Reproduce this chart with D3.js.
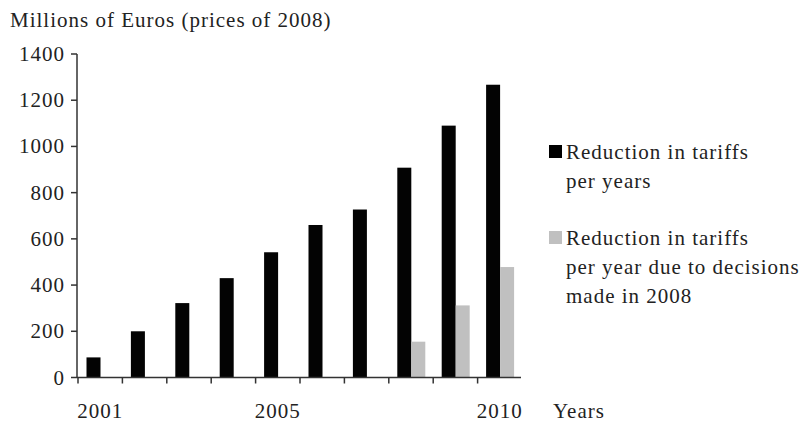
<!DOCTYPE html>
<html>
<head>
<meta charset="utf-8">
<script src="https://cdn.jsdelivr.net/npm/d3@7"></script>
<style>
    body { margin: 0; background: #fff; }
</style>
</head>
<body>
<div id="chart"></div>
<script>
// Data
const years = [2001, 2002, 2003, 2004, 2005, 2006, 2007, 2008, 2009, 2010];
const tariffReduction = [87, 200, 322, 430, 542, 660, 727, 908, 1090, 1267];
const reduction2008 = [0, 0, 0, 0, 0, 0, 0, 155, 312, 478];
const yTicks = [0, 200, 400, 600, 800, 1000, 1200, 1400];
const xLabels = [2001, 2005, 2010];
const legendItems = [
    { color: '#000', lines: ['Reduction in tariffs', 'per years'] },
    { color: '#c0c0c0', lines: ['Reduction in tariffs', 'per year due to decisions', 'made in 2008'] }
];

const W = 801, H = 428;
const svg = d3.select('#chart').append('svg')
    .attr('width', W)
    .attr('height', H);

const x = d3.scaleBand().domain(years).range([77, 521]).padding(0);
const sub = d3.scaleBand().domain(['total', 'y2008']).range([9.5, 37.5]).padding(0);
const y = d3.scaleLinear().domain([0, 1400]).range([377.5, 54]);

// Title
svg.append('text')
    .attr('x', 10).attr('y', 27)
    .text('Millions of Euros (prices of 2008)');

// Bars
const rows = years.map((yr, i) => ({ yr, total: tariffReduction[i], y2008: reduction2008[i] }));

svg.append('g').selectAll('rect')
    .data(rows)
    .join('rect')
    .attr('x', d => x(d.yr) + sub('total'))
    .attr('width', sub.bandwidth())
    .attr('y', d => y(d.total))
    .attr('height', d => y(0) - y(d.total))
    .attr('fill', '#030303');

svg.append('g').selectAll('rect')
    .data(rows.filter(d => d.y2008 > 0))
    .join('rect')
    .attr('x', d => x(d.yr) + sub('y2008'))
    .attr('width', sub.bandwidth())
    .attr('y', d => y(d.y2008))
    .attr('height', d => y(0) - y(d.y2008))
    .attr('fill', '#c0c0c0');

// Y axis
const axisColor = '#333';
const yAxis = svg.append('g');
yAxis.append('line')
    .attr('x1', 77).attr('x2', 77)
    .attr('y1', y(1400)).attr('y2', y(0))
    .attr('stroke', axisColor).attr('stroke-width', 1.5);
yAxis.selectAll('line.tick')
    .data(yTicks)
    .join('line')
    .attr('class', 'tick')
    .attr('x1', 71).attr('x2', 77)
    .attr('y1', d => y(d)).attr('y2', d => y(d))
    .attr('stroke', axisColor).attr('stroke-width', 1.5);
yAxis.selectAll('text')
    .data(yTicks)
    .join('text')
    .attr('x', 65)
    .attr('y', d => y(d) + 7)
    .attr('text-anchor', 'end')
    .text(d => d);

// X axis
const xAxis = svg.append('g');
xAxis.append('line')
    .attr('x1', 77).attr('x2', 521)
    .attr('y1', y(0)).attr('y2', y(0))
    .attr('stroke', axisColor).attr('stroke-width', 1.5);
xAxis.selectAll('line.tick')
    .data(years)
    .join('line')
    .attr('class', 'tick')
    .attr('x1', d => x(d) + 1).attr('x2', d => x(d) + 1)
    .attr('y1', y(0)).attr('y2', y(0) + 6)
    .attr('stroke', axisColor).attr('stroke-width', 1.5);
xAxis.selectAll('text')
    .data(xLabels)
    .join('text')
    .attr('x', d => x(d) + x.bandwidth() / 2 + 1)
    .attr('y', 418)
    .attr('text-anchor', 'middle')
    .text(d => d);

svg.append('text')
    .attr('x', 553).attr('y', 418)
    .text('Years');

// Legend
const legendTop = [159, 245];
const legend = svg.append('g');
legendItems.forEach((item, i) => {
    const g = legend.append('g');
    g.append('rect')
        .attr('x', 549).attr('y', legendTop[i] - 14)
        .attr('width', 13).attr('height', 13)
        .attr('fill', item.color);
    g.selectAll('text')
        .data(item.lines)
        .join('text')
        .attr('x', 566)
        .attr('y', (d, j) => legendTop[i] + j * 29)
        .text(d => d);
});

// shared text style, set on each text node
svg.selectAll('text')
    .attr('font-family', 'Liberation Serif')
    .attr('font-size', 21)
    .attr('fill', '#222')
    .style('font-family', '"Liberation Serif", serif')
    .style('letter-spacing', '1px');
</script>
</body>
</html>
